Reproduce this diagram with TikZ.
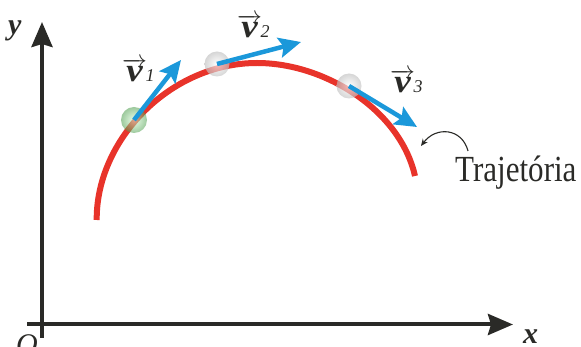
\documentclass[tikz,border=0pt]{standalone}
\usepackage{fontspec}
\setmainfont{Liberation Serif}
\usetikzlibrary{arrows.meta}
\definecolor{trajred}{HTML}{E8332A}
\definecolor{velblue}{HTML}{1B98DA}
\definecolor{inkgray}{HTML}{2A2A27}
\newcommand{\vlab}[1]{$\overrightarrow{\mbox{\scalebox{1.12}[1]{\bfseries\itshape v}}}$\kern-1.5pt{\fontsize{18}{18}\selectfont\itshape #1}}
\begin{document}
\begin{tikzpicture}[x=1pt,y=-1pt,
  axis/.style={line width=4pt, draw=inkgray, -{Stealth[length=25pt,width=21pt,inset=3pt]}},
  traj/.style={line width=6pt, draw=trajred},
  vel/.style={line width=4.5pt, draw=velblue, -{Stealth[length=22pt,width=20pt,inset=4pt]}},
  ballgray/.style={circle, minimum size=25pt, inner sep=0pt, shading=radial, inner color=white, outer color=gray!50, opacity=0.65},
  ballgreen/.style={circle, minimum size=26pt, inner sep=0pt, shading=radial, inner color=green!15!white, outer color=green!45!black!70, opacity=0.55},
  axlabel/.style={text=inkgray, font=\fontsize{30}{32}\selectfont\bfseries\itshape, inner sep=0pt},
  vlabel/.style={text=inkgray, font=\fontsize{33}{35}\selectfont, inner sep=0pt, anchor=base west},
  pointer/.style={line width=1.1pt, draw=inkgray, -{Stealth[length=7pt,width=6pt]}}
]
\clip (0,0) rectangle (581,347);
\useasboundingbox (0,0) rectangle (581,347);
% axes
\coordinate (ybot) at (42,338);
\coordinate (ytip) at (42,22);
\coordinate (xleft) at (27,324.5);
\coordinate (xtip) at (513,324.5);
\draw[axis] (ybot) -- (ytip);
\draw[axis] (xleft) -- (xtip);
\node[axlabel, anchor=base west] (ylab) at (8,35) {y};
\node[axlabel, anchor=base west] (xlab) at (523,343) {x};
\node[axlabel, anchor=base west, font=\fontsize{30}{32}\selectfont\itshape] (olab) at (16,355) {O};
% trajectory
\coordinate (cstart) at (96.7,220);
\coordinate (ctop) at (257,63);
\coordinate (cend) at (415,176);
\draw[traj] (cstart) .. controls (96,140) and (170,63) .. (ctop)
                     .. controls (325,63) and (400,110) .. (cend);
% balls
\node[ballgreen] (b1) at (134,120) {};
\node[ballgray] (b2) at (217,64) {};
\node[ballgray] (b3) at (349,86) {};
% velocities
\coordinate (t1) at (181,60);
\coordinate (t2) at (301,42);
\coordinate (t3) at (417,127);
\draw[vel] (b1.center) -- (t1);
\draw[vel] (b2.center) -- (t2);
\draw[vel] (b3.center) -- (t3);
\node[vlabel] (v1) at (122,82) {\vlab{1}};
\node[vlabel] (v2) at (237,38) {\vlab{2}};
\node[vlabel] (v3) at (390,93) {\vlab{3}};
% label
\node[text=inkgray, font=\fontsize{32}{34}\selectfont, inner sep=0pt, anchor=base west] (trajlab) at (455,182) {\scalebox{0.97}[1.15]{Trajetória}};
\coordinate (pstart) at (468,151);
\coordinate (pend) at (421,146);
\draw[pointer] (pstart) .. controls (462,128) and (436,126) .. (pend);
\end{tikzpicture}
\end{document}
